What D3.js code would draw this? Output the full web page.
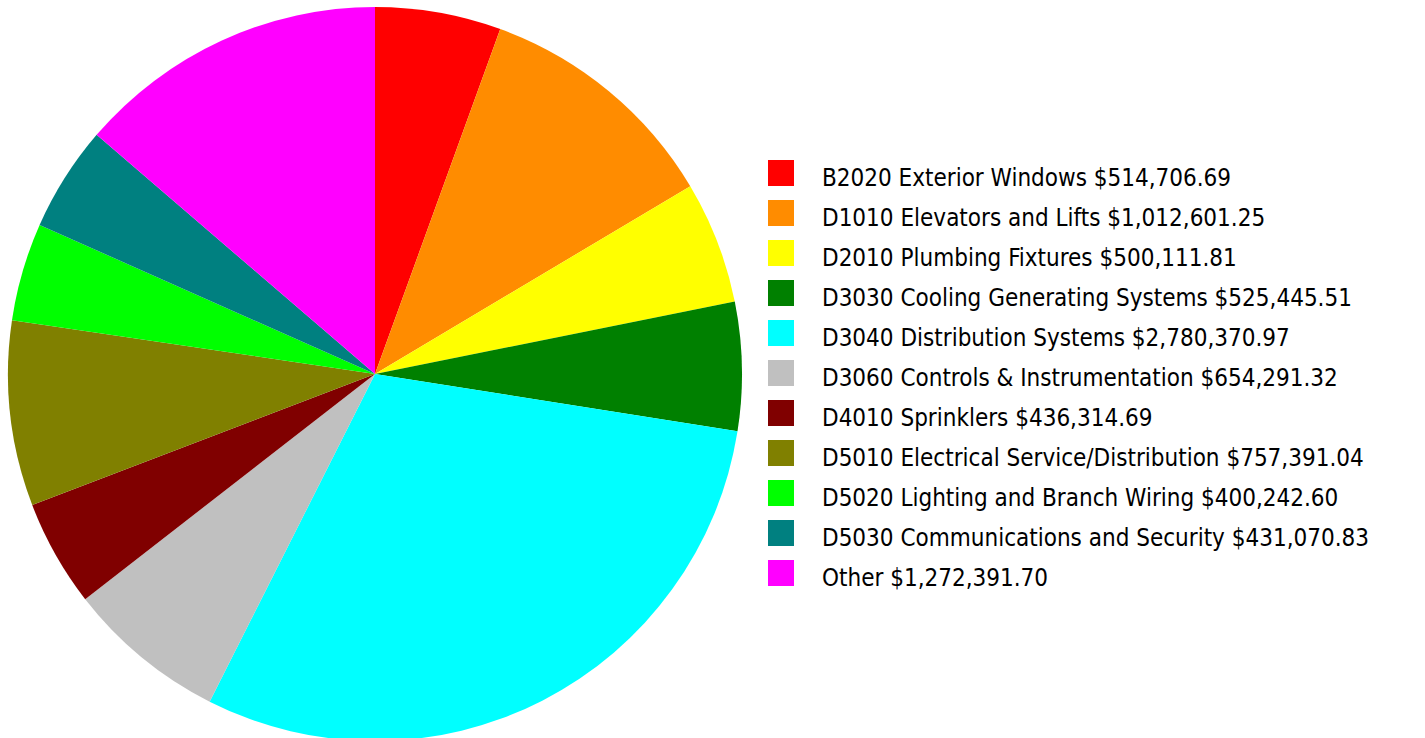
<!DOCTYPE html>
<html>
<head>
<meta charset="utf-8">
<style>
  body { margin: 0; background: #fff; }
  .legend text { font-family: "DejaVu Sans Condensed", "DejaVu Sans", sans-serif; font-stretch: condensed; font-size: 24px; fill: #000; }
</style>
</head>
<body>
<div id="chart"></div>
<script src="https://d3js.org/d3.v7.min.js"></script>
<script>
var labels = ['B2020 Exterior Windows', 'D1010 Elevators and Lifts', 'D2010 Plumbing Fixtures',
  'D3030 Cooling Generating Systems', 'D3040 Distribution Systems', 'D3060 Controls & Instrumentation',
  'D4010 Sprinklers', 'D5010 Electrical Service/Distribution', 'D5020 Lighting and Branch Wiring',
  'D5030 Communications and Security', 'Other'];
var values = [514706.69, 1012601.25, 500111.81, 525445.51, 2780370.97, 654291.32,
  436314.69, 757391.04, 400242.60, 431070.83, 1272391.70];
var colors = ['#ff0000', '#ff8c00', '#ffff00', '#008000', '#00ffff', '#c0c0c0',
  '#800000', '#808000', '#00ff00', '#008080', '#ff00ff'];

var width = 1425, height = 738;
var cx = 375, cy = 374, radius = 367;

var svg = d3.select('#chart').append('svg')
  .attr('width', width)
  .attr('height', height);

var pie = d3.pie().sort(null);
var arc = d3.arc().innerRadius(0).outerRadius(radius);

svg.append('g')
  .attr('transform', 'translate(' + cx + ',' + cy + ')')
  .selectAll('path')
  .data(pie(values))
  .enter()
  .append('path')
  .attr('d', arc)
  .attr('fill', function(d, i) { return colors[i]; });

var fmt = d3.format(',.2f');
var legend = svg.selectAll('.legend')
  .data(labels)
  .enter()
  .append('g')
  .attr('class', 'legend')
  .attr('transform', function(d, i) { return 'translate(768,' + (160 + i * 40) + ')'; });

legend.append('rect')
  .attr('width', 26)
  .attr('height', 26)
  .attr('fill', function(d, i) { return colors[i]; });

legend.append('text')
  .attr('x', 54)
  .attr('y', 26)
  .text(function(d, i) { return d + ' $' + fmt(values[i]); });
</script>
</body>
</html>
